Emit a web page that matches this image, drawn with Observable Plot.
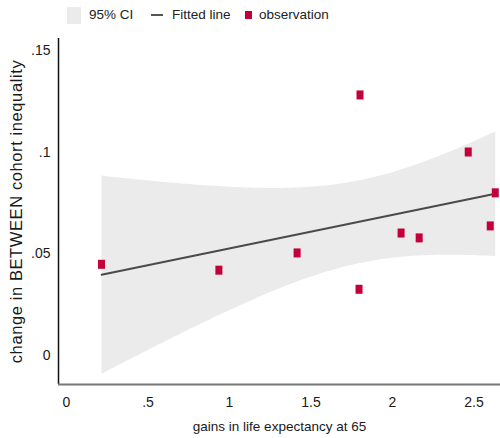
<!DOCTYPE html>
<html>
<head>
<meta charset="utf-8">
<script src="https://cdn.jsdelivr.net/npm/d3@7"></script>
<script src="https://cdn.jsdelivr.net/npm/@observablehq/plot@0.6"></script>
<style>
  html, body { margin: 0; padding: 0; background: #fff; }
  body { width: 500px; height: 438px; overflow: hidden; font-family: "Liberation Sans", Arial, sans-serif; }
  #legend { position: relative; height: 30px; font-size: 13.5px; color: #222; }
  #legend > * { position: absolute; }
  #legend .txt { top: 6px; line-height: 18px; white-space: nowrap; }
  .ytitle text { letter-spacing: 0.6px; }
</style>
</head>
<body>
<div id="legend">
  <div style="left:67px;top:7px;width:14px;height:17px;background:#ebebeb"></div>
  <div class="txt" style="left:89px">95% CI</div>
  <div style="left:151px;top:14px;width:12px;height:2px;background:#555"></div>
  <div class="txt" style="left:172px">Fitted line</div>
  <div style="left:245px;top:11px;width:7px;height:8px;background:#c4003a"></div>
  <div class="txt" style="left:259px">observation</div>
</div>
<div id="chart"></div>
<script>
// Data
const gains  = [0.215, 0.935, 1.415, 1.801, 1.795, 2.053, 2.164, 2.465, 2.600, 2.631];
const change = [0.0448, 0.0419, 0.0504, 0.1282, 0.0325, 0.0602, 0.0578, 0.1001, 0.0637, 0.0800];
const xTicks = [0, 0.5, 1, 1.5, 2, 2.5];
const yTicks = [0, 0.05, 0.1, 0.15];
const xDomain = [-0.049, 2.663];
const yDomain = [-0.0144, 0.156];
const xTitle = "gains in life expectancy at 65";
const yTitle = "change in BETWEEN cohort inequality";

const data = gains.map((g, i) => ({gains: g, change: change[i]}));
const fmt = d => d === 0 ? "0" : String(d).replace(/^0\./, ".");

const rectSymbol = { draw(ctx) { ctx.rect(-3.5, -4.5, 7, 9); } };

const chart = Plot.plot({
  width: 500,
  height: 408,
  marginTop: 8,
  marginBottom: 54,
  marginLeft: 58,
  marginRight: 0,
  style: { fontFamily: "Liberation Sans, Arial, sans-serif", fontSize: "13.5px", color: "#1a1a1a", background: "#fff" },
  x: { domain: xDomain },
  y: { domain: yDomain },
  marks: [
    Plot.linearRegressionY(data, { x: "gains", y: "change", ci: 0.95, fill: "#ebebeb", fillOpacity: 1, stroke: "#4a4a4a", strokeWidth: 2 }),
    Plot.dot(data, { x: "gains", y: "change", symbol: rectSymbol, fill: "#c4003a", stroke: "none" }),
    Plot.ruleX([xDomain[0]], { stroke: "#111", strokeWidth: 1.5 }),
    Plot.ruleY([yDomain[0]], { stroke: "#777", strokeWidth: 2 }),
    Plot.axisX(xTicks, { tickSize: 0, tickPadding: 13, tickFormat: fmt, label: null, fontSize: 14 }),
    Plot.axisY(yTicks, { tickSize: 0, tickPadding: 8, tickFormat: fmt, label: null, fontSize: 14 }),
    Plot.text([xTitle], { frameAnchor: "bottom", dy: 42, lineAnchor: "middle", textAnchor: "middle", fontSize: 13.5, fill: "#1a1a1a" }),
    Plot.text([yTitle], { frameAnchor: "left", dx: -42, rotate: -90, lineAnchor: "middle", textAnchor: "middle", fontSize: 16.5, fill: "#1a1a1a", className: "ytitle" })
  ]
});
document.getElementById("chart").appendChild(chart);
</script>
</body>
</html>
